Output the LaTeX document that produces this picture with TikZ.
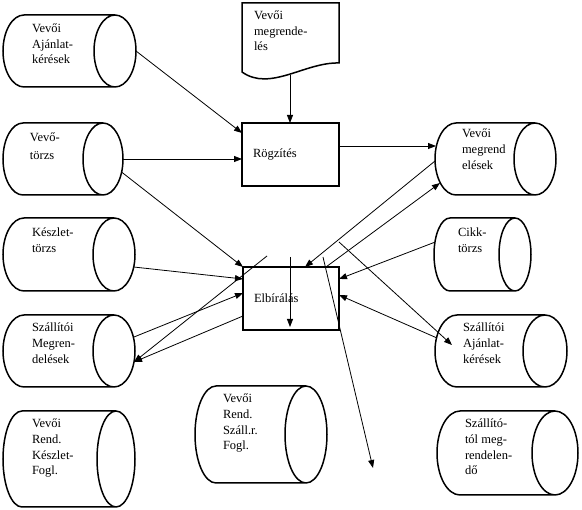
\documentclass[tikz,border=0pt]{standalone}
\usepackage{fontspec}
\setmainfont{Liberation Serif}
\usetikzlibrary{arrows.meta,calc}

\tikzset{
  shp/.style={draw=black, line width=1.5pt},
  box/.style={rectangle, anchor=north west, inner sep=0pt, outer sep=0pt},
  conn/.style={line width=0.8pt, -{Triangle[length=8pt,width=6pt]}},
  lbl/.style={anchor=base west, inner sep=0pt, outer sep=0pt, align=left,
              font=\fontsize{12.5}{#1}\selectfont},
  lbl/.default=15.7,
}

\newcommand\cylshape[2]{%
  \path[shp] let \p1=(#1.north west), \p2=(#1.south east), \n1={(\y1-\y2)/2} in
    ([xshift=#2pt]#1.north west) -- ([xshift=-#2pt]#1.north east)
    arc[start angle=90, end angle=-90, x radius=#2pt, y radius=\n1]
    -- ([xshift=#2pt]#1.south west)
    arc[start angle=270, end angle=90, x radius=#2pt, y radius=\n1]
    -- cycle
    ([xshift=-#2pt]#1.north east)
    arc[start angle=90, end angle=270, x radius=#2pt, y radius=\n1];
}

\begin{document}
\begin{tikzpicture}[x=1pt, y=-1pt]
\useasboundingbox (0,0) rectangle (582,510);

% cylinders
\node[box, minimum width=133pt, minimum height=72pt] (c1) at (3,15) {};
\node[box, minimum width=120pt, minimum height=72pt] (c2) at (3,123) {};
\node[box, minimum width=132pt, minimum height=73pt] (c3) at (3,218) {};
\node[box, minimum width=132pt, minimum height=72pt] (c4) at (3,315) {};
\node[box, minimum width=132pt, minimum height=96pt] (c5) at (3,411) {};
\node[box, minimum width=132pt, minimum height=97pt] (c6) at (195,386) {};
\node[box, minimum width=121pt, minimum height=72pt] (c7) at (435,123) {};
\node[box, minimum width=97pt,  minimum height=73pt] (c8) at (434,218) {};
\node[box, minimum width=132pt, minimum height=72pt] (c9) at (435,315) {};
\node[box, minimum width=141pt, minimum height=84pt] (c10) at (437,411) {};
\cylshape{c1}{21}
\cylshape{c2}{20}
\cylshape{c3}{21}
\cylshape{c4}{21}
\cylshape{c5}{19}
\cylshape{c6}{21}
\cylshape{c7}{21}
\cylshape{c8}{16}
\cylshape{c9}{22}
\cylshape{c10}{23}

% labels of cylinders (anchored at the baseline of the last line)
\node[lbl=15.5] (t1) at (32,64) {Vevői\\Ajánlat-\\kérések};
\node[lbl=18] (t2) at (30,160) {Vevő-\\törzs};
\node[lbl=16] (t3) at (32,253) {Készlet-\\törzs};
\node[lbl=16] (t4) at (32,364) {Szállítói\\Megren-\\delések};
\node[lbl] (t5) at (32,475) {Vevői\\Rend.\\Készlet-\\Fogl.};
\node[lbl] (t6) at (223,450) {Vevői\\Rend.\\Száll.r.\\Fogl.};
\node[lbl=16] (t7) at (462,170) {Vevői\\megrend\\elések};
\node[lbl=16] (t8) at (458,253) {Cikk-\\törzs};
\node[lbl=16] (t9) at (463,364) {Szállítói\\Ajánlat-\\kérések};
\node[lbl] (t10) at (465,475) {Szállító-\\tól meg-\\rendelen-\\dő};

% document
\node[box, minimum width=97pt, minimum height=69pt] (doc) at (242,3) {};
\draw[shp] (doc.south west) -- (doc.north west) -- (doc.north east)
  -- ([yshift=9pt]doc.south east) .. controls (305,62) and (270,92) .. (doc.south west) -- cycle;
\node[lbl=15.5] (doct) at (254,51) {Vevői\\megrende-\\lés};
\coordinate (docb) at (290,75);

% process boxes
\node[box, shp, minimum width=97pt, minimum height=63pt, text width=75pt,
      inner xsep=11pt, align=left, font=\fontsize{12.5}{15}\selectfont] (rog) at (242,123) {Rögzítés};
\node[box, shp, minimum width=96pt, minimum height=63pt, text width=74pt,
      inner xsep=11pt, align=left, font=\fontsize{12.5}{15}\selectfont] (elb) at (243,267) {Elbírálás};

% connectors
\draw[conn] (c1.east) -- ([yshift=21.5pt]rog.west);
\draw[conn] (c2.east) -- (c2.east -| rog.west);
\draw[conn] ([xshift=-1.5pt,yshift=-13pt]c2.east) -- (elb.north west);
\draw[conn] (docb) -- (docb |- rog.north);
\draw[conn] ([yshift=8.5pt]rog.east) -- ([xshift=1pt,yshift=13pt]c7.west);
\draw[conn] ([yshift=-2pt]c7.west) -- ([xshift=14pt]elb.north);
\draw[conn] ([xshift=35pt]elb.north) -- ([xshift=5pt,yshift=-24pt]c7.west);
\coordinate (p1) at (373,468);
\draw[conn] ([xshift=32pt,yshift=10pt]elb.north) -- (p1);
\draw[conn] ([yshift=25pt]elb.north east) -- ([xshift=17pt,yshift=6pt]c9.west);
\draw[conn] ([yshift=12pt]c8.west) -- ([yshift=19.5pt]elb.east);
\draw[conn] ([xshift=2pt,yshift=13pt]c9.west) -- ([yshift=3.5pt]elb.east);
\draw[conn] ([xshift=-1pt,yshift=10pt]elb.north) -- ([xshift=-1pt,yshift=3pt]elb.south);
\draw[conn] ([xshift=-1.3pt,yshift=-12.5pt]c3.east) -- ([yshift=19.5pt]elb.west);
\draw[conn] ([xshift=-1pt,yshift=14pt]c4.east) -- ([yshift=5.5pt]elb.west);
\draw[conn] ([yshift=-17.5pt]elb.west) -- ([xshift=-1pt,yshift=-11pt]c4.east);
\draw[conn] ([xshift=-24pt,yshift=11pt]elb.north) -- ([xshift=-1pt,yshift=-11pt]c4.east);
\end{tikzpicture}
\end{document}
